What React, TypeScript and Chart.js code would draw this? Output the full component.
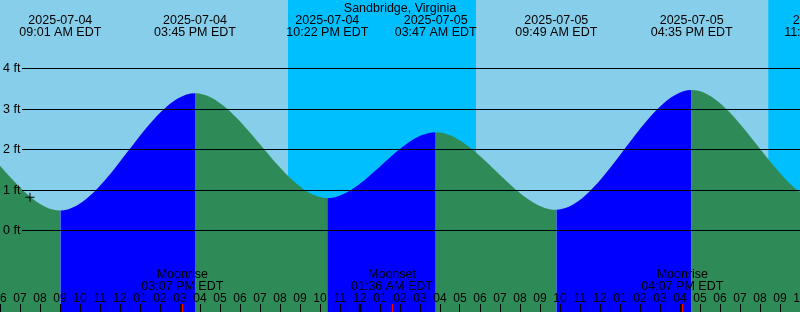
import React, { useEffect, useRef } from "react";
import { Chart, registerables } from "chart.js";

Chart.register(...registerables);

// ---- data (hours are counted from 2025-07-04 00:00 EDT) ----
const TITLE = "Sandbridge, Virginia";
const tideHours = [-3.4, 2.8, 9.0167, 15.75, 22.3667, 27.7833, 33.8167, 40.5833, 47.2333, 53.5];
const tideFeet = [0.3, 2.8, 0.48, 3.38, 0.79, 2.42, 0.5, 3.46, 0.68, 2.6];
const tideDateLabels = ["", "", "2025-07-04", "2025-07-04", "2025-07-04", "2025-07-05", "2025-07-05", "2025-07-05", "2025-07-05", ""];
const tideTimeLabels = ["", "", "09:01 AM EDT", "03:45 PM EDT", "10:22 PM EDT", "03:47 AM EDT", "09:49 AM EDT", "04:35 PM EDT", "11:14 PM EDT", ""];

const moonHours = [15.1167, 25.6, 40.1167];
const moonEvents = ["Moonrise", "Moonset", "Moonrise"];
const moonTimes = ["03:07 PM EDT", "01:36 AM EDT", "04:07 PM EDT"];

const nightStart = [20.4, 44.415];
const nightEnd = [29.8, 53.8];

const nowHour = [7.5];
const nowFeet = [0.81];

const X_MIN = 6;
const X_MAX = 46;
const Y_MIN = -2.028;
const Y_MAX = 5.689;
const yTickValues = [0, 1, 2, 3, 4];
const yTickLabels = ["0 ft", "1 ft", "2 ft", "3 ft", "4 ft"];
const hourTicks: number[] = [];
for (let h = X_MIN; h <= X_MAX; h++) hourTicks.push(h);
const hourLabel = (h: number) => {
  const m = ((h % 12) + 12) % 12;
  return String(m === 0 ? 12 : m).padStart(2, "0");
};

const SKY = "#87CEEB";
const NIGHT = "#00BFFF";
const RISING = "#0000FF";
const FALLING = "#2E8B57";
const FONT = "'Liberation Sans', Arial, sans-serif";

const decorPlugin = {
  id: "tideDecor",
  beforeDraw(chart: any) {
    const { ctx, chartArea: a, scales } = chart;
    const x = scales.x;
    ctx.save();
    ctx.fillStyle = SKY;
    ctx.fillRect(a.left, a.top, a.right - a.left, a.bottom - a.top);
    ctx.fillStyle = NIGHT;
    nightStart.forEach((s, i) => {
      const x0 = x.getPixelForValue(s);
      const x1 = x.getPixelForValue(nightEnd[i]);
      ctx.fillRect(x0, a.top, x1 - x0, a.bottom - a.top);
    });
    ctx.restore();
  },
  afterDatasetsDraw(chart: any) {
    const { ctx, chartArea: a, scales } = chart;
    const x = scales.x;
    const y = scales.y;
    ctx.save();
    ctx.fillStyle = "#000";
    ctx.font = `12.5px ${FONT}`;
    ctx.textAlign = "left";
    ctx.textBaseline = "alphabetic";
    yTickValues.forEach((v, i) => {
      const py = Math.round(y.getPixelForValue(v));
      ctx.fillRect(22, py, a.right - 22, 1);
      ctx.fillText(yTickLabels[i], 3, py + 3.7);
    });
    ctx.textAlign = "center";
    ctx.fillText(TITLE, (a.left + a.right) / 2, 12);
    tideHours.forEach((h, i) => {
      if (!tideDateLabels[i]) return;
      const px = x.getPixelForValue(h);
      ctx.fillText(tideDateLabels[i], px, 24);
      ctx.fillText(tideTimeLabels[i], px, 36);
    });
    moonHours.forEach((h, i) => {
      const px = x.getPixelForValue(h);
      ctx.fillText(moonEvents[i], px, 278);
      ctx.fillText(moonTimes[i], px, 289.5);
    });
    ctx.font = `12px ${FONT}`;
    hourTicks.forEach((h) => {
      const px = x.getPixelForValue(h);
      ctx.fillStyle = "#000";
      if (h % 24 === 0) {
        ctx.fillRect(px - 1.3, 304, 2.6, a.bottom - 304);
      } else {
        ctx.fillRect(Math.floor(px), 304, 1, a.bottom - 304);
      }
      ctx.fillText(hourLabel(h), px, 302);
    });
    ctx.fillStyle = "#FF0000";
    moonHours.forEach((h) => {
      const px = x.getPixelForValue(h);
      ctx.fillRect(Math.floor(px), 304, 1, a.bottom - 304);
    });
    ctx.restore();
  },
};

export default function App() {
  const ref = useRef<HTMLCanvasElement | null>(null);
  useEffect(() => {
    if (!ref.current) return;
    const chart = new Chart(ref.current, {
      type: "line",
      data: {
        datasets: [
          {
            type: "scatter",
            data: nowHour.map((h, i) => ({ x: h, y: nowFeet[i] })),
            pointStyle: "cross",
            pointRadius: 4.5,
            borderColor: "#000",
            backgroundColor: "#000",
            borderWidth: 1,
            showLine: false,
          } as any,
          {
            type: "line",
            data: tideHours.map((h, i) => ({ x: h, y: tideFeet[i] })),
            cubicInterpolationMode: "monotone",
            fill: "start",
            borderWidth: 0,
            borderColor: "rgba(0,0,0,0)",
            backgroundColor: FALLING,
            pointRadius: 0,
            segment: {
              backgroundColor: (c: any) => (c.p1.parsed.y > c.p0.parsed.y ? RISING : FALLING),
            },
          } as any,
        ],
      },
      options: {
        responsive: false,
        animation: false,
        devicePixelRatio: 1,
        layout: { padding: 0, autoPadding: false },
        events: [],
        plugins: { legend: { display: false }, tooltip: { enabled: false }, title: { display: false } },
        scales: {
          x: { type: "linear", min: X_MIN, max: X_MAX, display: false },
          y: { type: "linear", min: Y_MIN, max: Y_MAX, display: false },
        },
      } as any,
      plugins: [decorPlugin],
    });
    return () => chart.destroy();
  }, []);
  return (
    <div style={{ position: "absolute", left: 0, top: 0, width: 800, height: 312 }}>
      <canvas ref={ref} width={800} height={312} style={{ display: "block" }} />
    </div>
  );
}
